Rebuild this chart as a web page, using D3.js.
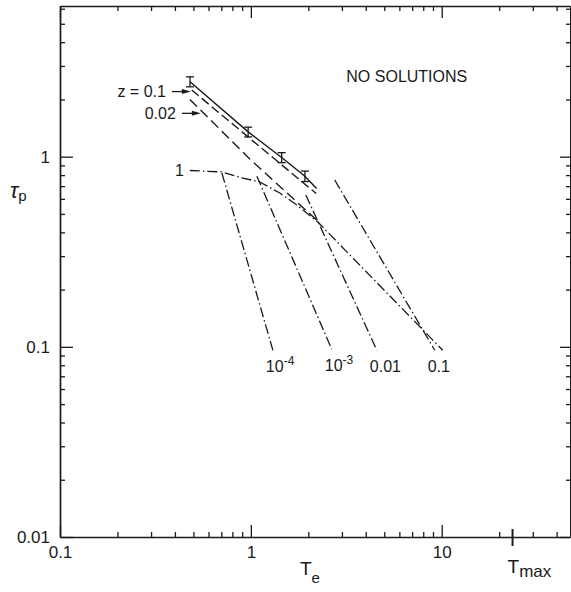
<!DOCTYPE html>
<html>
<head>
<meta charset="utf-8">
<script src="https://cdn.jsdelivr.net/npm/d3@7"></script>
<style>
  body { margin: 0; background: #fff; }
  svg { display: block; }
</style>
</head>
<body>
<script>
// Timescale tau_p against temperature T_e on log–log axes.

// Axis ticks
const xTickValues = [0.1, 1, 10];
const xTickLabels = ["0.1", "1", "10"];
const xMinorTicks = [0.2, 0.3, 0.4, 0.5, 0.6, 0.7, 0.8, 0.9, 2, 3, 4, 5, 6, 7, 8, 9, 20, 30, 40];
const yTickValues = [0.01, 0.1, 1];
const yTickLabels = ["0.01", "0.1", "1"];
const yMinorTicks = [0.02, 0.03, 0.04, 0.05, 0.06, 0.07, 0.08, 0.09,
                     0.2, 0.3, 0.4, 0.5, 0.6, 0.7, 0.8, 0.9, 2, 3, 4, 5, 6];
const tMax = 23.5;

// Solid curve and its points with error bars
const solidT   = [0.48, 0.968, 1.45, 1.92, 2.21];
const solidTau = [2.48, 1.35, 0.99, 0.79, 0.68];
const pointT   = [0.48, 0.968, 1.45, 1.92];
const pointTau = [2.48, 1.35, 0.99, 0.79];
const pointErr = [0.15, 0.08, 0.06, 0.05];

// Dashed curves, z = 0.1 and z = 0.02
const z01T    = [0.49, 2.2];
const z01Tau  = [2.24, 0.64];
const z002T   = [0.479, 0.99, 2.30];
const z002Tau = [2.0, 0.97, 0.448];

// Dash-dot curve labelled 1
const c1T   = [0.479, 0.705, 0.908, 1.114, 1.418, 1.741, 2.243, 10.12];
const c1Tau = [0.846, 0.831, 0.772, 0.736, 0.644, 0.557, 0.453, 0.096];

// Steep dash-dot branches
const branchT = [[0.705, 1.304], [1.075, 2.655], [1.94, 4.57], [2.75, 9.19]];
const branchTau = [[0.821, 0.096], [0.79, 0.097], [0.629, 0.096], [0.754, 0.096]];
const branchLabelBase = ["10", "10", "0.01", "0.1"];
const branchLabelExp  = ["-4", "-3", "", ""];

const W = 571, H = 592;
const plotLeft = 60, plotRight = 570, plotTop = 6, plotBottom = 537;

const x = d3.scaleLog().domain([0.1, 47]).range([plotLeft, plotRight]);
const y = d3.scaleLog().domain([0.01, 6.2]).range([plotBottom, plotTop]);

const ink = "#1a1a1a";
const font = "'Liberation Sans', Arial, sans-serif";

const svg = d3.select("body").append("svg")
  .attr("width", W).attr("height", H)
  .style("font-family", font);

function styleAxis(g) {
  g.select(".domain").attr("stroke", ink).attr("stroke-width", 1.7);
  g.selectAll(".tick line").attr("stroke", ink).attr("stroke-width", 1.3);
  g.selectAll(".tick text").attr("fill", ink).style("font-family", font).style("font-size", "17px");
}

// Bottom axis
svg.append("g").attr("transform", `translate(0,${plotBottom})`)
  .call(d3.axisBottom(x).tickValues(xTickValues).tickFormat((d, i) => xTickLabels[i])
    .tickSize(-12).tickSizeOuter(0).tickPadding(9))
  .call(styleAxis);
svg.append("g").attr("transform", `translate(0,${plotBottom})`)
  .call(d3.axisBottom(x).tickValues(xMinorTicks).tickFormat("").tickSize(-5).tickSizeOuter(0))
  .call(styleAxis).call(g => g.select(".domain").remove());

// Top axis
svg.append("g").attr("transform", `translate(0,${plotTop})`)
  .call(d3.axisTop(x).tickValues(xTickValues).tickFormat("").tickSize(-12).tickSizeOuter(0))
  .call(styleAxis);
svg.append("g").attr("transform", `translate(0,${plotTop})`)
  .call(d3.axisTop(x).tickValues(xMinorTicks).tickFormat("").tickSize(-5).tickSizeOuter(0))
  .call(styleAxis).call(g => g.select(".domain").remove());

// Left axis
svg.append("g").attr("transform", `translate(${plotLeft},0)`)
  .call(d3.axisLeft(y).tickValues(yTickValues).tickFormat((d, i) => yTickLabels[i])
    .tickSize(-13).tickSizeOuter(0).tickPadding(10))
  .call(styleAxis);
svg.append("g").attr("transform", `translate(${plotLeft},0)`)
  .call(d3.axisLeft(y).tickValues(yMinorTicks).tickFormat("").tickSize(-5).tickSizeOuter(0))
  .call(styleAxis).call(g => g.select(".domain").remove());

// Right axis
svg.append("g").attr("transform", `translate(${plotRight},0)`)
  .call(d3.axisRight(y).tickValues(yTickValues).tickFormat("").tickSize(-10).tickSizeOuter(0))
  .call(styleAxis).call(g => g.select(".domain").attr("stroke-width", 1));
svg.append("g").attr("transform", `translate(${plotRight},0)`)
  .call(d3.axisRight(y).tickValues(yMinorTicks).tickFormat("").tickSize(-4).tickSizeOuter(0))
  .call(styleAxis).call(g => g.select(".domain").remove());

// T_max marker on the bottom axis
svg.append("line")
  .attr("x1", x(tMax)).attr("x2", x(tMax))
  .attr("y1", plotBottom - 8).attr("y2", plotBottom + 9)
  .attr("stroke", ink).attr("stroke-width", 2);
const tmaxLabel = svg.append("text")
  .attr("x", x(tMax) - 5).attr("y", plotBottom + 36)
  .attr("fill", ink).style("font-size", "19px");
tmaxLabel.append("tspan").text("T");
tmaxLabel.append("tspan").attr("dy", 4).style("font-size", "17px").text("max");

// Axis titles
const xTitle = svg.append("text")
  .attr("x", 300).attr("y", 575).attr("fill", ink).style("font-size", "19px");
xTitle.append("tspan").text("T");
xTitle.append("tspan").attr("dy", 8).style("font-size", "15px").text("e");

const yTitle = svg.append("text")
  .attr("x", 10).attr("y", 198).attr("fill", ink).style("font-size", "22px");
yTitle.append("tspan").style("font-style", "italic").text("τ");
yTitle.append("tspan").attr("dy", 3).style("font-size", "15px").text("p");

// Curves
const line = d3.line().x(d => x(d[0])).y(d => y(d[1]));
const zip = (a, b) => a.map((v, i) => [v, b[i]]);
function curve(ts, taus, dash, width) {
  svg.append("path")
    .attr("d", line(zip(ts, taus)))
    .attr("fill", "none")
    .attr("stroke", ink)
    .attr("stroke-width", width)
    .attr("stroke-dasharray", dash);
}

const dashDot = "10,3,1.5,3";
curve(solidT, solidTau, null, 1.4);
curve(z01T, z01Tau, "9,4", 1.4);
curve(z002T, z002Tau, "10,5", 1.4);
curve(c1T, c1Tau, dashDot, 1.3);
branchT.forEach((ts, i) => curve(ts, branchTau[i], dashDot, 1.3));

// Error bars on the solid curve
const cap = 4;
pointT.forEach((t, i) => {
  const px = x(t), yHi = y(pointTau[i] + pointErr[i]), yLo = y(pointTau[i] - pointErr[i]);
  const g = svg.append("g").attr("stroke", ink).attr("stroke-width", 1.3);
  g.append("line").attr("x1", px).attr("x2", px).attr("y1", yHi).attr("y2", yLo);
  g.append("line").attr("x1", px - cap).attr("x2", px + cap).attr("y1", yHi).attr("y2", yHi);
  g.append("line").attr("x1", px - cap).attr("x2", px + cap).attr("y1", yLo).attr("y2", yLo);
});

// Branch labels under the end of each steep line
branchT.forEach((ts, i) => {
  const ex = x(ts[1]), ey = y(branchTau[i][1]);
  const t = svg.append("text")
    .attr("x", ex - 7).attr("y", ey + 22)
    .attr("fill", ink).style("font-size", "16px");
  t.append("tspan").text(branchLabelBase[i]);
  if (branchLabelExp[i]) {
    t.append("tspan").attr("dy", -7).style("font-size", "12px").text(branchLabelExp[i]);
  }
});

// Label for curve 1
svg.append("text")
  .attr("x", x(c1T[0]) - 6).attr("y", y(c1Tau[0])).attr("dy", "0.35em")
  .attr("text-anchor", "end").attr("fill", ink).style("font-size", "16px")
  .text("1");

// Arrow labels for the dashed curves
const arrowTips = [
  { text: "z = 0.1", T: 0.485, tau: 2.20 },
  { text: "0.02", T: 0.547, tau: 1.69 }
];
arrowTips.forEach(a => {
  const tx = x(a.T), ty = y(a.tau);
  svg.append("line")
    .attr("x1", tx - 19).attr("x2", tx - 6).attr("y1", ty).attr("y2", ty)
    .attr("stroke", ink).attr("stroke-width", 1.3);
  svg.append("path")
    .attr("d", `M${tx},${ty} L${tx - 9},${ty - 2.5} L${tx - 9},${ty + 2.5} Z`)
    .attr("fill", ink);
  svg.append("text")
    .attr("x", tx - 25).attr("y", ty).attr("dy", "0.35em")
    .attr("text-anchor", "end").attr("fill", ink).style("font-size", "16px")
    .text(a.text);
});

// Region annotation
svg.append("text")
  .attr("x", x(6.56)).attr("y", y(2.64)).attr("dy", "0.35em")
  .attr("text-anchor", "middle").attr("fill", ink).style("font-size", "16px")
  .text("NO SOLUTIONS");
</script>
</body>
</html>
